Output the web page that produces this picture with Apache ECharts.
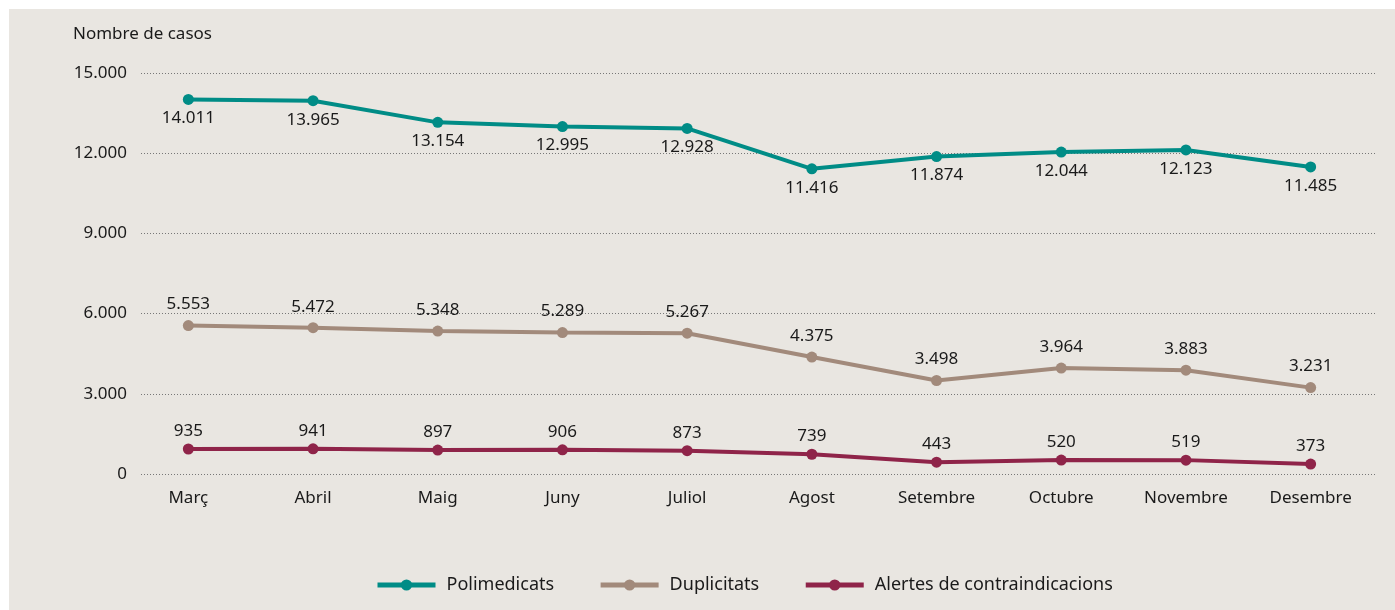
<!DOCTYPE html>
<html>
<head>
<meta charset="utf-8">
<script src="https://cdn.jsdelivr.net/npm/echarts@6/dist/echarts.min.js"></script>
<style>
html,body{margin:0;padding:0;background:#fff;}
#chart{position:absolute;left:9px;top:9px;width:1386px;height:601px;background:#e9e6e1;}
</style>
</head>
<body>
<div id="chart"></div>
<script>
const categories = ['Març','Abril','Maig','Juny','Juliol','Agost','Setembre','Octubre','Novembre','Desembre'];
const polimedicats = [14011,13965,13154,12995,12928,11416,11874,12044,12123,11485];
const duplicitats = [5553,5472,5348,5289,5267,4375,3498,3964,3883,3231];
const alertes = [935,941,897,906,873,739,443,520,519,373];
const yTicks = {min:0, max:15000, interval:3000};
const yName = 'Nombre de casos';

const FONT = '"Noto Sans", "Open Sans", sans-serif';
function fmt(v){ return String(v).replace(/\B(?=(\d{3})+(?!\d))/g,'.'); }

const chart = echarts.init(document.getElementById('chart'), null, {renderer:'canvas'});
function mkSeries(name, data, color, pos, dist){
  return {
    name, type:'line', data, xAxisIndex:1, yAxisIndex:1,
    symbol:'circle', symbolSize:11,
    lineStyle:{width:4,color},
    itemStyle:{color},
    label:{show:true, position:pos, distance:dist, color:'#1a1a1a', fontSize:17, fontFamily:FONT,
      formatter:p=>fmt(p.value)},
    emphasis:{disabled:true}
  };
}
chart.setOption({
  animation:false,
  backgroundColor:'#e9e6e1',
  textStyle:{fontFamily:FONT},
  grid:[
    {left:132, right:20, top:64, bottom:136},
    {left:117, right:22, top:64, bottom:136}
  ],
  graphic:[{type:'text', left:64, top:17, style:{text:yName, fontSize:17, fontFamily:FONT, fill:'#1a1a1a'}}],
  legend:{
    bottom:11, left:361,
    itemWidth:58, itemHeight:14, itemGap:44,
    lineStyle:{width:5},
    textStyle:{fontSize:18, fontFamily:FONT, color:'#1a1a1a', padding:[0,0,0,6]},
    data:['Polimedicats','Duplicitats','Alertes de contraindicacions']
  },
  xAxis:[
    {gridIndex:0, type:'category', data:categories, show:false},
    {gridIndex:1, type:'category', data:categories, boundaryGap:true,
     axisLine:{show:false}, axisTick:{show:false},
     axisLabel:{fontSize:17, fontFamily:FONT, color:'#1a1a1a', margin:16}}
  ],
  yAxis:[
    {gridIndex:0, type:'value', min:yTicks.min, max:yTicks.max, interval:yTicks.interval,
     axisLine:{show:false}, axisTick:{show:false},
     axisLabel:{fontSize:17, fontFamily:FONT, color:'#1a1a1a', margin:14, formatter:v=>fmt(v)},
     splitLine:{show:true, lineStyle:{type:[1,2], color:'#777', width:1}}},
    {gridIndex:1, type:'value', min:yTicks.min, max:yTicks.max, interval:yTicks.interval, show:false,
     splitLine:{show:false}}
  ],
  series:[
    mkSeries('Polimedicats', polimedicats, '#008c86', 'bottom', 5),
    mkSeries('Duplicitats', duplicitats, '#a28a7b', 'top', 7),
    mkSeries('Alertes de contraindicacions', alertes, '#8f2449', 'top', 4)
  ]
});
</script>
</body>
</html>
